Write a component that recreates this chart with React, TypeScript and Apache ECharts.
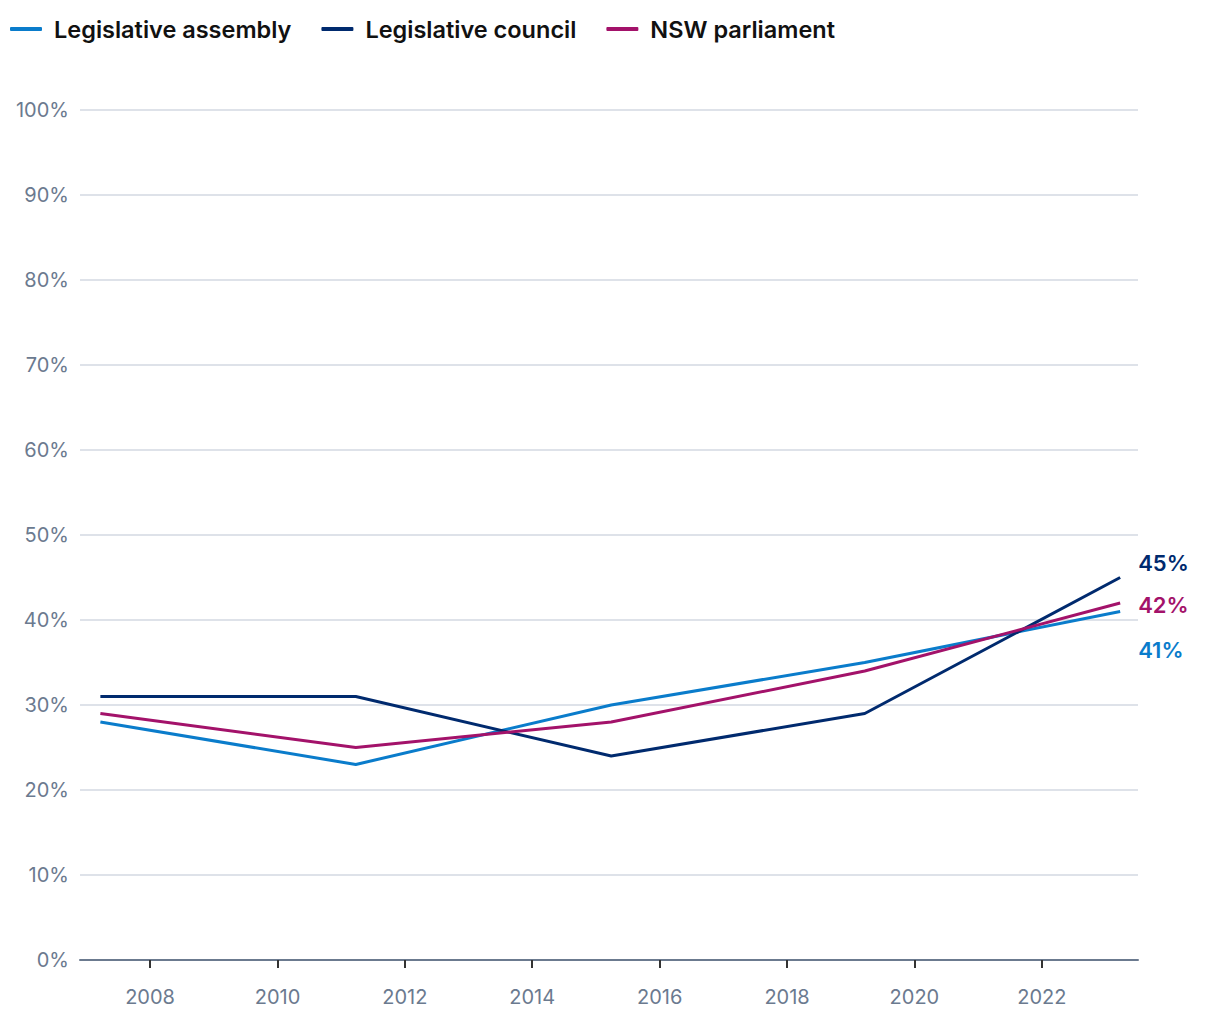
import React, { useEffect, useRef } from "react";
import * as echarts from "echarts";

// Election dates as decimal years (March elections)
const electionYears = [2007.22, 2011.23, 2015.24, 2019.22, 2023.23];
const assembly = [28, 23, 30, 35, 41];
const council = [31, 31, 24, 29, 45];
const parliament = [29, 25, 28, 34, 42];
const xTickYears = [2008, 2010, 2012, 2014, 2016, 2018, 2020, 2022];
const seriesNames = ["Legislative assembly", "Legislative council", "NSW parliament"];
const colors = ["#0a7ccb", "#002a6e", "#a3126a"];
const endLabelOffsets = [[0, 38], [0, -15], [0, 2]];

const FONT = "Inter, 'Noto Sans', sans-serif";

export default function App() {
  const ref = useRef<HTMLDivElement>(null);
  useEffect(() => {
    document.body.style.margin = "0";
    const chart = echarts.init(ref.current!, null, { renderer: "svg" });
    const datasets = [assembly, council, parliament];
    const series = datasets.map((vals, i) => ({
      name: seriesNames[i],
      type: "line",
      symbol: "none",
      data: vals.map((v, j) => [electionYears[j], v]),
      lineStyle: { width: 3, color: colors[i] },
      itemStyle: { color: colors[i] },
      z: i + 2,
      endLabel: {
        show: true,
        formatter: (p: any) => p.value[1] + "%",
        color: colors[i],
        fontSize: 22,
        fontWeight: 600,
        fontFamily: FONT,
        distance: 18,
        offset: endLabelOffsets[i],
      },
    }));
    chart.setOption({
      animation: false,
      color: colors,
      textStyle: { fontFamily: FONT },
      legend: {
        left: 5,
        top: 12,
        icon: "roundRect",
        itemWidth: 32,
        itemHeight: 4,
        itemGap: 30,
        data: seriesNames,
        textStyle: {
          fontSize: 23.5,
          fontWeight: 600,
          color: "#111",
          fontFamily: FONT,
          padding: [0, 0, 0, 7],
        },
      },
      grid: { left: 80, right: 82, top: 110, bottom: 60, containLabel: false },
      xAxis: {
        type: "value",
        min: 2006.9,
        max: 2023.51,
        splitLine: { show: false },
        axisLine: { show: true, lineStyle: { color: "#6b7a8f", width: 2 } },
        axisTick: {
          show: true,
          customValues: xTickYears,
          length: 8,
          lineStyle: { color: "#333", width: 2 },
        },
        axisLabel: {
          customValues: xTickYears,
          formatter: (v: number) => String(v),
          color: "#6b7a8f",
          fontSize: 20,
          margin: 27,
          fontFamily: FONT,
        },
      },
      yAxis: {
        type: "value",
        min: 0,
        max: 100,
        interval: 10,
        axisLine: { show: false },
        axisTick: { show: false },
        splitLine: { show: true, lineStyle: { color: "#d3d8e2", width: 1.5 } },
        axisLabel: {
          formatter: "{value}%",
          color: "#6b7a8f",
          fontSize: 20,
          margin: 11,
          fontFamily: FONT,
        },
      },
      series,
    });
    return () => chart.dispose();
  }, []);
  return (
    <div
      ref={ref}
      style={{ position: "absolute", left: 0, top: 0, width: 1220, height: 1020 }}
    />
  );
}
